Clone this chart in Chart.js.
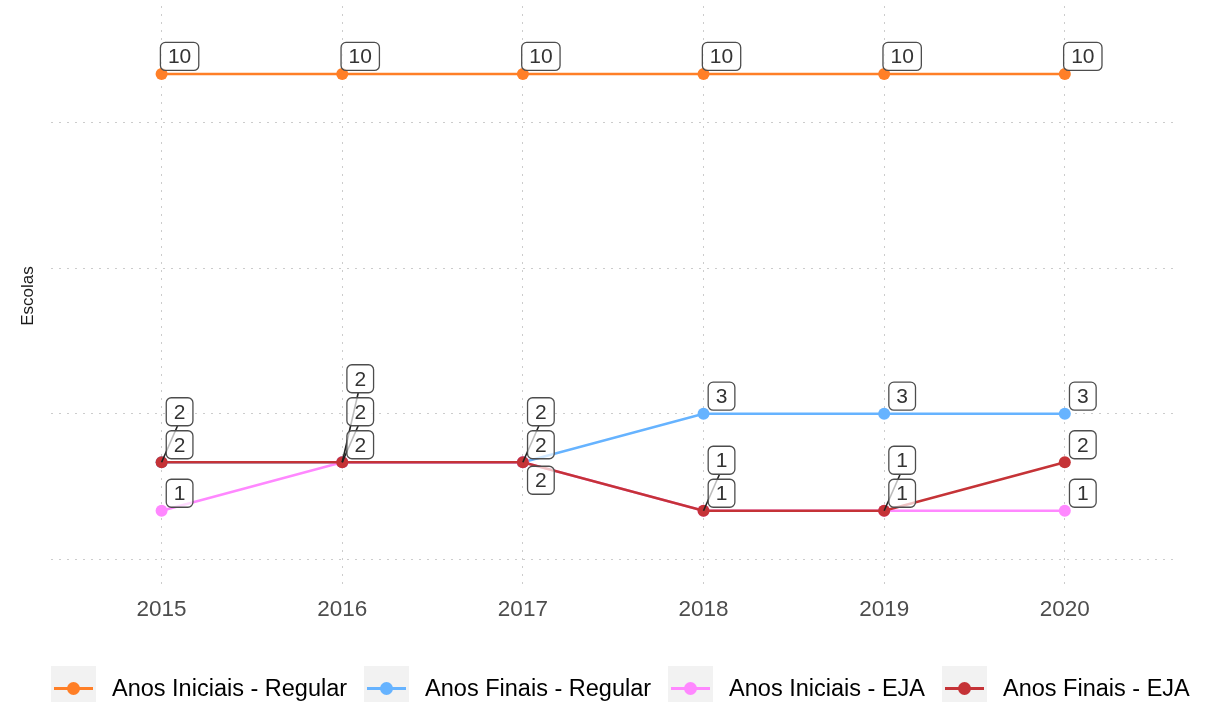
<!DOCTYPE html>
<html lang="pt">
<head>
<meta charset="UTF-8">
<title>Escolas por etapa</title>
<script src="https://cdn.jsdelivr.net/npm/chart.js@4.4.7/dist/chart.umd.min.js"></script>
<style>
*{margin:0;padding:0;box-sizing:border-box}
body{background:#fff;width:1220px;height:702px;overflow:hidden;font-family:"Liberation Sans",Arimo,Helvetica,sans-serif}
.wrap{position:relative;width:1220px;height:702px}
.legend{position:absolute;left:51px;top:666px;width:1139px;height:45px;display:flex;align-items:center;overflow:hidden;white-space:nowrap}
.key{position:relative;flex:0 0 45px;width:45px;height:45px;background:#f2f2f2;margin-right:16px}
.key i{position:absolute;left:3px;right:3px;top:21px;height:3px}
.key b{position:absolute;left:16px;top:16px;width:13px;height:13px;border-radius:50%}
.legend span{font-size:23.5px;color:#000;margin-right:17px}
</style>
</head>
<body>
<div class="wrap">
<canvas id="chart"></canvas>
<div class="legend" id="legend"></div>
</div>
<script>
// anos e número de escolas por etapa
const years = [2015, 2016, 2017, 2018, 2019, 2020];
const seriesNames = ["Anos Iniciais - Regular", "Anos Finais - Regular", "Anos Iniciais - EJA", "Anos Finais - EJA"];
const anosIniciaisRegular = [10, 10, 10, 10, 10, 10];
const anosFinaisRegular = [2, 2, 2, 3, 3, 3];
const anosIniciaisEja = [1, 2, 2, 1, 1, 1];
const anosFinaisEja = [2, 2, 2, 1, 1, 2];
const yGrid = [0, 3, 6, 9];

const seriesColors = ["#ff7f27", "#66b3ff", "#ff88ff", "#c53337"];
// label stacking so coincident labels don't overlap (0 = just above, n = n boxes up, -1 = below)
const labelSlots = [
  [0, 0, 0, 0, 0, 0],
  [1, 2, 1, 0, 0, 0],
  [0, 1, -1, 1, 1, 0],
  [0, 0, 0, 0, 0, 0]
];

const seriesValues = [anosIniciaisRegular, anosFinaisRegular, anosIniciaisEja, anosFinaisEja];
const FONT = '"Liberation Sans", Arimo, Helvetica, sans-serif';

const datasets = seriesValues.map((vals, k) => ({
  label: seriesNames[k],
  data: years.map((yr, i) => ({x: yr, y: vals[i]})),
  borderColor: seriesColors[k],
  backgroundColor: seriesColors[k],
  pointBackgroundColor: seriesColors[k],
  pointBorderWidth: 0,
  pointRadius: 6,
  pointHoverRadius: 6,
  borderWidth: 2.6,
  tension: 0,
  order: 3 - k
}));

// boxed value labels with leader segments
const boxLabels = {
  id: "boxLabels",
  afterDatasetsDraw(chart) {
    const {ctx, scales: {x, y}} = chart;
    ctx.save();
    ctx.font = "21px " + FONT;
    const boxes = [];
    chart.data.datasets.forEach((ds, k) => {
      ds.data.forEach((d, i) => {
        const px = x.getPixelForValue(d.x), py = y.getPixelForValue(d.y);
        const slot = labelSlots[k][i];
        const cx = px + 18;
        const cy = slot < 0 ? py + 18 : py - 17.5 - slot * 33;
        const txt = String(d.y);
        const w = ctx.measureText(txt).width + 15, h = 28;
        boxes.push({cx, cy, w, h, txt});
        if (slot > 0) {
          ctx.strokeStyle = "#222";
          ctx.lineWidth = 1.6;
          ctx.beginPath();
          ctx.moveTo(px, py);
          ctx.lineTo(cx - 2, cy + h / 2);
          ctx.stroke();
        }
      });
    });
    boxes.forEach(b => {
      ctx.beginPath();
      ctx.roundRect(b.cx - b.w / 2, b.cy - b.h / 2, b.w, b.h, 5);
      ctx.fillStyle = "rgba(255,255,255,0.7)";
      ctx.fill();
      ctx.strokeStyle = "#4d4d4d";
      ctx.lineWidth = 1.3;
      ctx.stroke();
      ctx.fillStyle = "#333";
      ctx.textAlign = "center";
      ctx.textBaseline = "middle";
      ctx.fillText(b.txt, b.cx, b.cy + 1);
    });
    ctx.restore();
  }
};

const gridStyle = {color: "#cccccc", lineWidth: 1, drawTicks: false};

new Chart(document.getElementById("chart"), {
  type: "line",
  data: {datasets},
  plugins: [boxLabels],
  options: {
    responsive: true,
    maintainAspectRatio: false,
    animation: false,
    layout: {padding: {left: 10, right: 45, top: 0, bottom: 69}},
    plugins: {legend: {display: false}, tooltip: {enabled: false}},
    scales: {
      x: {
        type: "linear",
        min: 2014.39,
        max: 2020.61,
        afterBuildTicks: s => { s.ticks = years.map(v => ({value: v})); },
        grid: gridStyle,
        border: {display: false, dash: [2, 6]},
        ticks: {
          color: "#4d4d4d",
          padding: 10,
          font: {size: 22.5, family: FONT},
          callback: v => String(v),
          maxRotation: 0
        }
      },
      y: {
        min: -0.55,
        max: 11.4,
        afterBuildTicks: s => { s.ticks = yGrid.map(v => ({value: v})); },
        grid: gridStyle,
        border: {display: false, dash: [2, 6]},
        ticks: {display: false},
        title: {
          display: true,
          text: "Escolas",
          color: "#1a1a1a",
          font: {size: 17, family: FONT},
          padding: {top: 8, bottom: 13}
        }
      }
    }
  }
});

// legend row below the plot
const legend = document.getElementById("legend");
seriesNames.forEach((name, k) => {
  const key = document.createElement("div");
  key.className = "key";
  key.innerHTML = '<i style="background:' + seriesColors[k] + '"></i><b style="background:' + seriesColors[k] + '"></b>';
  const label = document.createElement("span");
  label.textContent = name;
  legend.appendChild(key);
  legend.appendChild(label);
});
</script>
</body>
</html>
